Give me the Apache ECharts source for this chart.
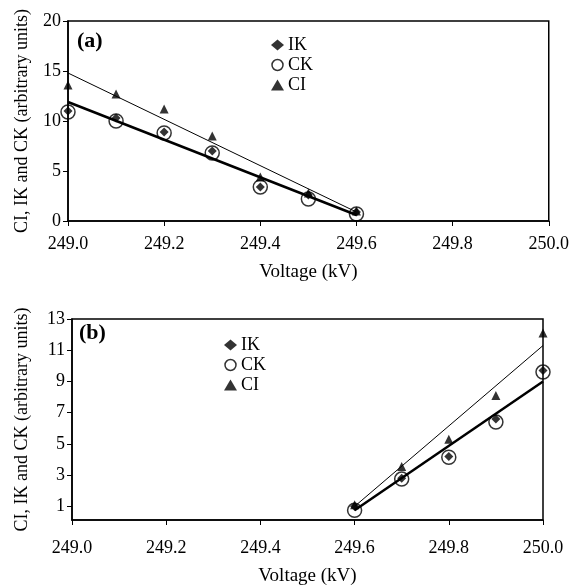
<!DOCTYPE html>
<html><head><meta charset="utf-8">
<script src="https://cdn.jsdelivr.net/npm/echarts@6/dist/echarts.min.js"></script>
<style>html,body{margin:0;padding:0;background:#fff}#c{width:572px;height:587px}</style>
</head><body><div id="c"></div>
<script>
// Panel (a)
const voltA = [249.0, 249.1, 249.2, 249.3, 249.4, 249.5, 249.6];
const ikA = [11.0, 10.3, 8.9, 7.0, 3.4, 2.6, 0.9];
const ckA = [10.9, 10.0, 8.8, 6.8, 3.4, 2.2, 0.7];
const ciA = [13.6, 12.7, 11.2, 8.5, 4.4, 2.8, 1.0];
const trendCiA = [[249.0, 14.8], [249.6, 0.9]];
const trendKA = [[249.0, 11.9], [249.6, 0.6]];
// Panel (b)
const voltB = [249.6, 249.7, 249.8, 249.9, 250.0];
const ikB = [1.0, 2.8, 4.2, 6.6, 9.7];
const ckB = [0.75, 2.75, 4.15, 6.4, 9.6];
const ciB = [1.1, 3.55, 5.3, 8.1, 12.1];
const trendCiB = [[249.6, 1.0], [250.0, 11.3]];
const trendKB = [[249.6, 0.75], [250.0, 9.0]];
// Ticks
const yTicksA = [0, 5, 10, 15, 20];
const yTicksB = [1, 3, 5, 7, 9, 11, 13];
const xTicks = [249.0, 249.2, 249.4, 249.6, 249.8, 250.0];

const F = '"Liberation Serif", "Times New Roman", serif';
const pair = (xs, ys) => xs.map((x, i) => [x, ys[i]]);

function xAxisCfg(gi) {
  return {
    type: 'value', gridIndex: gi, min: 249.0, max: 250.0, interval: 0.2,
    name: 'Voltage (kV)', nameLocation: 'middle', nameGap: gi === 0 ? 42 : 47,
    nameTextStyle: { fontFamily: F, fontSize: 19, color: '#000' },
    axisLine: { show: true, onZero: false, lineStyle: { color: '#000', width: 1.5 } },
    axisTick: { show: true, length: 5, lineStyle: { color: '#000' } },
    axisLabel: { fontFamily: F, fontSize: 18, color: '#000', margin: gi === 0 ? 14 : 19,
      formatter: v => v.toFixed(1) },
    splitLine: { show: false }
  };
}
function yAxisCfg(gi, min, max, ticks) {
  return {
    type: 'value', gridIndex: gi, min: min, max: max,
    name: 'CI, IK and CK (arbitrary units)', nameLocation: 'middle', nameGap: gi === 0 ? 37 : 41,
    nameTextStyle: { fontFamily: F, fontSize: 18, color: '#000' },
    axisLine: { show: true, onZero: false, lineStyle: { color: '#000', width: 1.5 } },
    axisTick: { show: true, length: 5, customValues: ticks, lineStyle: { color: '#000' } },
    axisLabel: { fontFamily: F, fontSize: 18, color: '#000', margin: 7, customValues: ticks },
    splitLine: { show: false }
  };
}
function scatter(name, gi, data, symbol, size, filled) {
  return {
    type: 'scatter', name: name, xAxisIndex: gi, yAxisIndex: gi, data: data,
    symbol: symbol, symbolSize: size,
    itemStyle: filled ? { color: '#000' } : { color: 'rgba(255,255,255,0)', borderColor: '#000', borderWidth: 1.5 },
    z: filled ? 5 : 4
  };
}
function trend(gi, data, w) {
  return {
    type: 'line', name: 'trend', xAxisIndex: gi, yAxisIndex: gi, data: data,
    symbol: 'none', lineStyle: { color: '#000', width: w }, z: 3, silent: true
  };
}
function legendCfg(left, top) {
  return {
    left: left, top: top, orient: 'vertical', selectedMode: false,
    itemWidth: 13, itemHeight: 11, itemGap: 2,
    textStyle: { fontFamily: F, fontSize: 18, color: '#000', padding: [0, 0, 0, -1] },
    data: [
      { name: 'IK', icon: 'diamond', itemStyle: { color: '#000' } },
      { name: 'CK', icon: 'circle', itemStyle: { color: '#fff', borderColor: '#000', borderWidth: 1.5 } },
      { name: 'CI', icon: 'triangle', itemStyle: { color: '#000' } }
    ]
  };
}

const chart = echarts.init(document.getElementById('c'), null, { renderer: 'canvas' });
chart.setOption({
  backgroundColor: '#fff',
  animation: false,
  grid: [
    { left: 68, top: 21, width: 485, height: 200, show: true, borderColor: '#000', borderWidth: 1.5, backgroundColor: 'transparent' },
    { left: 72, top: 319, width: 471, height: 207, show: true, borderColor: '#000', borderWidth: 1.5, backgroundColor: 'transparent' }
  ],
  xAxis: [xAxisCfg(0), xAxisCfg(1)],
  yAxis: [yAxisCfg(0, 0, 20, yTicksA), yAxisCfg(1, 0.13, 13, yTicksB)],
  legend: [legendCfg(266, 31), legendCfg(219, 331)],
  graphic: [
    { type: 'text', left: 77, top: 30, style: { text: '(a)', font: 'bold 22px ' + F, fill: '#000' } },
    { type: 'text', left: 79, top: 322, style: { text: '(b)', font: 'bold 22px ' + F, fill: '#000' } }
  ],
  series: [
    trend(0, trendCiA, 1), trend(0, trendKA, 2.5),
    scatter('CK', 0, pair(voltA, ckA), 'circle', 14, false),
    scatter('IK', 0, pair(voltA, ikA), 'diamond', 9, true),
    scatter('CI', 0, pair(voltA, ciA), 'triangle', 9, true),
    trend(1, trendCiB, 1), trend(1, trendKB, 2.5),
    scatter('CK', 1, pair(voltB, ckB), 'circle', 14, false),
    scatter('IK', 1, pair(voltB, ikB), 'diamond', 9, true),
    scatter('CI', 1, pair(voltB, ciB), 'triangle', 9, true)
  ]
});
</script>
</body></html>
